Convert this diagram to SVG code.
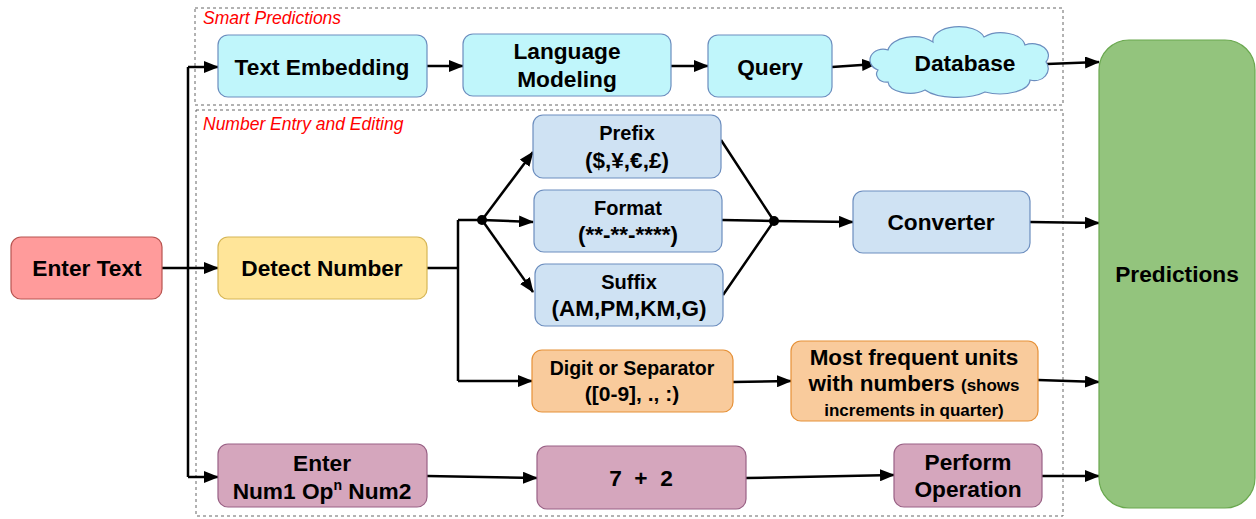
<svg xmlns="http://www.w3.org/2000/svg" width="1256" height="519" viewBox="0 0 1256 519">
<style>
text{font-family:"Liberation Sans",Arial,sans-serif;font-weight:bold;fill:#000;text-anchor:middle}
.lbl{font-weight:normal;font-style:italic;fill:#ff0000;font-size:17.5px;text-anchor:start}
.grp{fill:none;stroke:#666;stroke-width:1;stroke-dasharray:3,3}
.cy{fill:#c0f6fb;stroke:#6c8ebf;stroke-width:1.2}
.bl{fill:#cfe2f3;stroke:#6c8ebf;stroke-width:1.2}
.rd{fill:#ff9b9b;stroke:#b85450;stroke-width:1.2}
.ye{fill:#ffe599;stroke:#d6b656;stroke-width:1.2}
.or{fill:#f9cb9c;stroke:#e69138;stroke-width:1.2}
.pk{fill:#d5a6bd;stroke:#996185;stroke-width:1.2}
.gr{fill:#93c47d;stroke:#6aa84f;stroke-width:1.2}
.c{fill:none;stroke:#000;stroke-width:2.5}
.a{marker-end:url(#ah)}
.t{font-size:22.7px}
</style>
<defs>
<marker id="ah" markerUnits="userSpaceOnUse" markerWidth="15" markerHeight="12" refX="14" refY="6" orient="auto">
<path d="M0,0 L15,6 L0,12 z" fill="#000"/>
</marker>
</defs>
<rect class="grp" x="195" y="8" width="868" height="97"/>
<text class="lbl" x="203" y="24">Smart Predictions</text>
<rect class="grp" x="196" y="110" width="867" height="406"/>
<text class="lbl" x="203" y="130">Number Entry and Editing</text>

<g id="connectors">
<path class="c a" d="M162,268 H218"/>
<path class="c" d="M188,67 V477"/>
<path class="c a" d="M188,67 H218"/>
<path class="c a" d="M188,477 H218"/>
<path class="c a" d="M427,66 H463"/>
<path class="c a" d="M671,66 H708"/>
<path class="c a" d="M832,67 L876,64"/>
<path class="c a" d="M1047,64 L1099,62"/>
<path class="c" d="M427,268 H458 M458,220 V381 M458,220 H482"/>
<circle cx="482" cy="220" r="5" fill="#000"/>
<path class="c a" d="M482,220 L533,152"/>
<path class="c a" d="M482,220 L533,222"/>
<path class="c a" d="M482,220 L533,292"/>
<path class="c" d="M721,140 L774,221 M722,220 L774,221 M723,295 L774,221"/>
<circle cx="774" cy="221" r="5" fill="#000"/>
<path class="c a" d="M774,221 L853,222"/>
<path class="c a" d="M1030,222 L1099,223"/>
<path class="c a" d="M458,381 H532"/>
<path class="c a" d="M733,382 L791,381"/>
<path class="c a" d="M1038,380 L1099,382"/>
<path class="c a" d="M427,476 L537,478"/>
<path class="c a" d="M746,478 L894,475"/>
<path class="c a" d="M1042,476 L1099,476"/>
</g>

<g id="enter-text"><rect class="rd" x="11" y="237" width="151" height="62" rx="10"/><text class="t" x="87" y="276">Enter Text</text></g>
<g id="text-embedding"><rect class="cy" x="218" y="35" width="209" height="62" rx="10"/><text class="t" x="322" y="75">Text Embedding</text></g>
<g id="language-modeling"><rect class="cy" x="463" y="34" width="208" height="62" rx="10"/><text class="t" x="567" y="59">Language</text><text class="t" x="567" y="87">Modeling</text></g>
<g id="query"><rect class="cy" x="708" y="35" width="124" height="62" rx="10"/><text class="t" x="770" y="75">Query</text></g>
<g id="database"><path class="cy" d="M878,70 A12,10 0 0 1 888,50 A26,16 0 0 1 933,42 A26,14 0 0 1 984,37 A24,14 0 0 1 1025,45 A16,12 0 0 1 1046,62 A14,12 0 0 1 1030,80 A30,14 0 0 1 985,92 A36,14 0 0 1 925,90 A22,12 0 0 1 888,82 A10,8 0 0 1 878,70 Z"/><text class="t" x="965" y="71">Database</text></g>
<g id="detect-number"><rect class="ye" x="218" y="237" width="209" height="62" rx="10"/><text class="t" x="322" y="276">Detect Number</text></g>
<g id="prefix"><rect class="bl" x="533" y="115" width="188" height="63" rx="10"/><text x="627" y="140" font-size="20">Prefix</text><text x="627" y="168" font-size="22.5">($,¥,€,£)</text></g>
<g id="format"><rect class="bl" x="534" y="190" width="188" height="62" rx="10"/><text x="628" y="215" font-size="20">Format</text><text x="628" y="242" font-size="22.5">(**-**-****)</text></g>
<g id="suffix"><rect class="bl" x="535" y="264" width="188" height="62" rx="10"/><text x="629" y="289" font-size="20">Suffix</text><text x="629" y="316" font-size="22.5">(AM,PM,KM,G)</text></g>
<g id="converter"><rect class="bl" x="853" y="191" width="177" height="62" rx="10"/><text class="t" x="941" y="230">Converter</text></g>
<g id="digit-separator"><rect class="or" x="532" y="350" width="201" height="62" rx="10"/><text x="632" y="375" font-size="19.5">Digit or Separator</text><text x="632" y="401" font-size="21">([0-9], ., :)</text></g>
<g id="most-frequent"><rect class="or" x="791" y="341" width="247" height="80" rx="10"/><text x="914" y="365" font-size="22.5">Most frequent units</text><text x="914" y="391" font-size="22.5">with numbers <tspan font-size="17">(shows</tspan></text><text x="914" y="416" font-size="17">increments in quarter)</text></g>
<g id="enter-num"><rect class="pk" x="218" y="444" width="209" height="63" rx="10"/><text class="t" x="322" y="471">Enter</text><text class="t" x="322" y="499">Num1 Op<tspan font-size="14" dy="-9">n</tspan><tspan dy="9"> Num2</tspan></text></g>
<g id="seven-plus-two"><rect class="pk" x="537" y="446" width="209" height="63" rx="10"/><text class="t" x="641" y="486" xml:space="preserve">7  +  2</text></g>
<g id="perform-operation"><rect class="pk" x="894" y="444" width="148" height="63" rx="10"/><text class="t" x="968" y="470">Perform</text><text class="t" x="968" y="497">Operation</text></g>
<g id="predictions"><rect class="gr" x="1099" y="40" width="156" height="468" rx="30"/><text class="t" x="1177" y="282">Predictions</text></g>
</svg>
